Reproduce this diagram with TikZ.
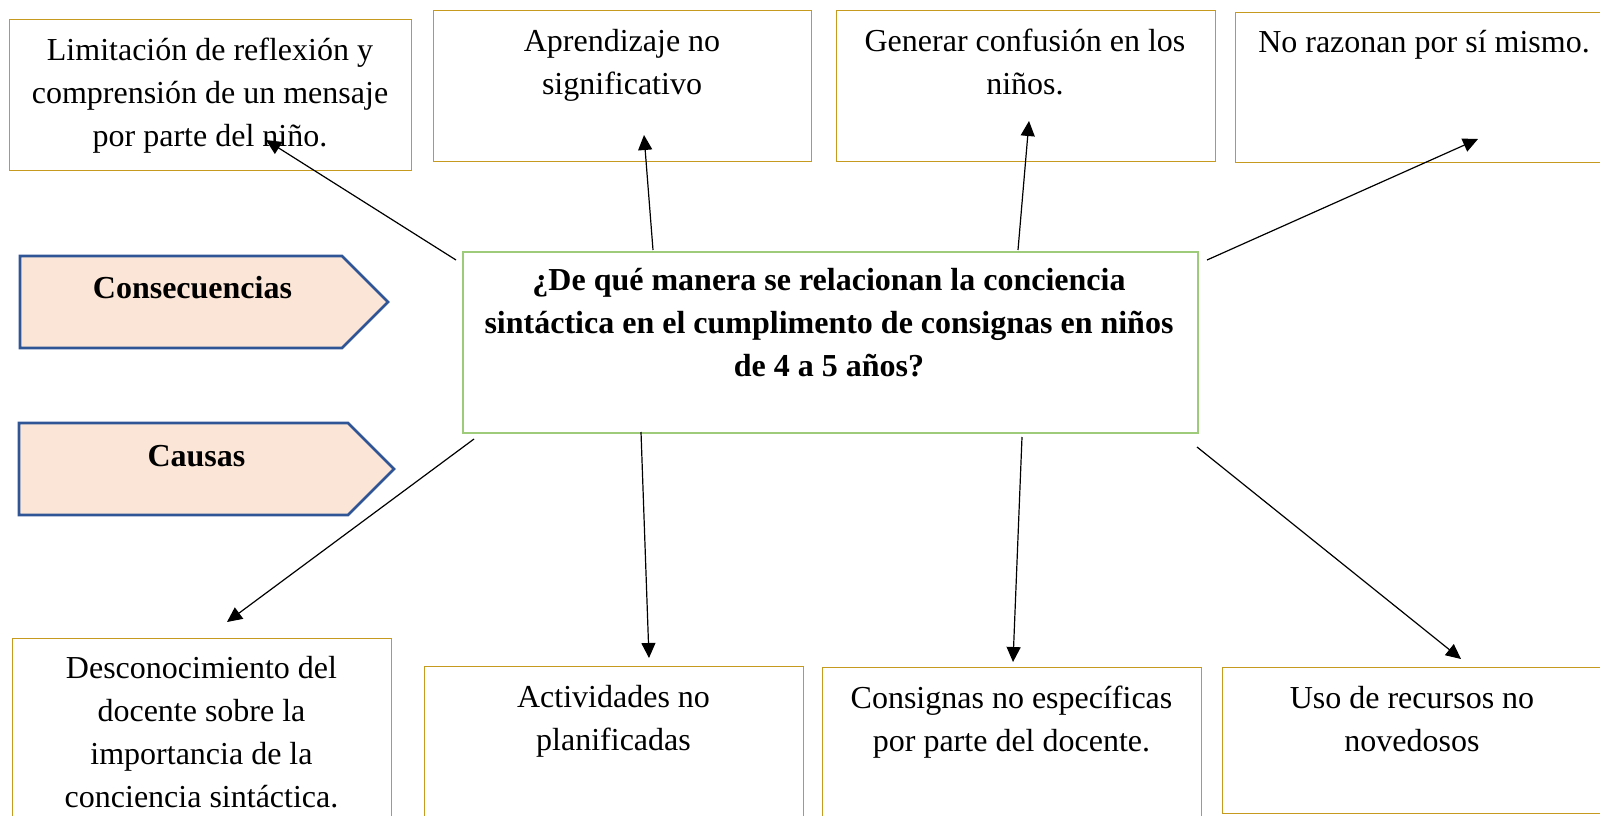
\documentclass[tikz,border=0pt]{standalone}
\usepackage{fontspec}
\setmainfont{Liberation Serif}
\usetikzlibrary{arrows.meta}
\definecolor{gold}{HTML}{C59A1E}
\definecolor{qgreen}{HTML}{9DCB7A}
\definecolor{sigblue}{HTML}{2F5597}
\definecolor{sigfill}{HTML}{FBE5D6}
\begin{document}
\begin{tikzpicture}[x=1pt,y=-1pt,
  goldbox/.style={draw=gold,line width=1.4pt,anchor=north west,inner sep=0pt},
  qbox/.style={draw=qgreen,line width=1.5pt,anchor=north west,inner sep=0pt},
  sig/.style={draw=sigblue,fill=sigfill,line width=2.6pt,line join=miter},
  txt/.style={inner sep=0pt,align=center,anchor=north,font=\fontsize{32}{43}\selectfont},
  btxt/.style={txt,font=\fontsize{32}{43}\selectfont\bfseries},
  stxt/.style={inner sep=0pt,anchor=base,font=\fontsize{32}{43}\selectfont\bfseries},
  arr/.style={line width=1.2pt,-{Triangle[length=15pt,width=14pt]}}]
\useasboundingbox (0,0) rectangle (1600,816);
\clip (0,0) rectangle (1600,816);

% consequence boxes (top)
\node[goldbox,minimum width=402pt,minimum height=151pt] (b1) at (9,19) {};
\node[goldbox,minimum width=378pt,minimum height=151pt] (b2) at (433,10) {};
\node[goldbox,minimum width=379pt,minimum height=151pt] (b3) at (836,10) {};
\node[goldbox,minimum width=378pt,minimum height=150pt] (b4) at (1235,12) {};
% cause boxes (bottom)
\node[goldbox,minimum width=379pt,minimum height=200pt] (b5) at (12,638) {};
\node[goldbox,minimum width=379pt,minimum height=180pt] (b6) at (424,666) {};
\node[goldbox,minimum width=379pt,minimum height=180pt] (b7) at (822,667) {};
\node[goldbox,minimum width=381pt,minimum height=146pt] (b8) at (1222,667) {};
% central question
\node[qbox,minimum width=735pt,minimum height=181pt] (q) at (462,251) {};

% texts
\node[txt] (t1) at (210,30) {\strut Limitación de reflexión y\\comprensión de un mensaje\\por parte del niño.};
\node[txt] (t2) at (622,21) {\strut Aprendizaje no\\significativo};
\node[txt] (t3) at (1025,21) {\strut Generar confusión en los\\niños.};
\node[txt] (t4) at (1424,22) {\strut No razonan por sí mismo.};
\node[txt] (t5) at (201.5,648) {\strut Desconocimiento del\\docente sobre la\\importancia de la\\conciencia sintáctica.};
\node[txt] (t6) at (613.5,677) {\strut Actividades no\\planificadas};
\node[txt] (t7) at (1011.5,678) {\strut Consignas no específicas\\por parte del docente.};
\node[txt] (t8) at (1412,678) {\strut Uso de recursos no\\novedosos};
\node[btxt] (tq) at (829,260) {\strut ¿De qué manera se relacionan la conciencia\\sintáctica en el cumplimento de consignas en niños\\de 4 a 5 años?};

% side labels
\draw[sig] (20,256) -- (342,256) -- (388,302) -- (342,348) -- (20,348) -- cycle;
\draw[sig] (19,423) -- (348,423) -- (394,469) -- (348,515) -- (19,515) -- cycle;
\node[stxt] (cons) at (192.5,298) {Consecuencias};
\node[stxt] (caus) at (196.5,466) {Causas};

% connector ends
\coordinate (s1) at (456,260);  \coordinate (e1) at (266,140);
\coordinate (s2) at (653,250);  \coordinate (e2) at (644,135);
\coordinate (s3) at (1018,250); \coordinate (e3) at (1029,121);
\coordinate (s4) at (1207,260); \coordinate (e4) at (1478,139);
\coordinate (s5) at (474,439);  \coordinate (e5) at (227,622);
\coordinate (s6) at (641,432);  \coordinate (e6) at (649,658);
\coordinate (s7) at (1022,437); \coordinate (e7) at (1013,662);
\coordinate (s8) at (1197,447); \coordinate (e8) at (1461,659);

\foreach \i in {1,...,8} {\draw[arr] (s\i) -- (e\i);}
\end{tikzpicture}
\end{document}
